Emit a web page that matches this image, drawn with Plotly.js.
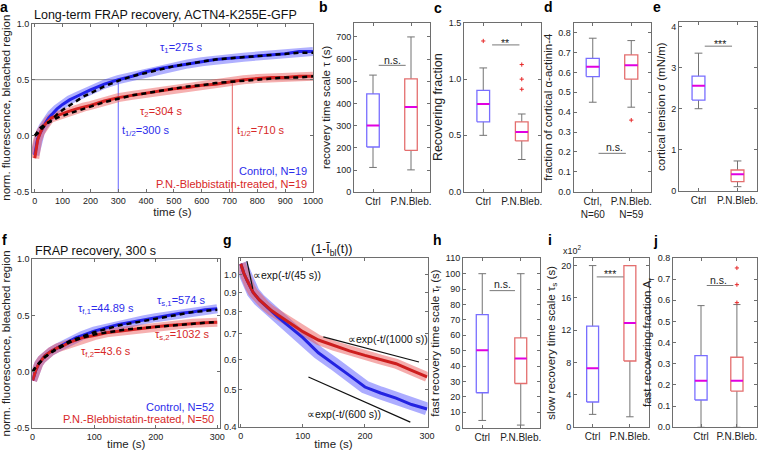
<!DOCTYPE html>
<html><head><meta charset="utf-8">
<script src="https://cdn.plot.ly/plotly-3.0.1.min.js"></script>
<style>html,body{margin:0;padding:0;background:#fff}</style>
</head><body><div id="chart" style="width:761px;height:450px"></div>
<script>
// ---------- DATA ----------
// panel a: long-term FRAP recovery
const aTime = [0,5,10,20,30,40,50,60,80,100,125,150,175,200,250,300,350,400,450,500,550,600,650,700,750,800,850,900,950,1000];
const aCtrl = [-0.17,-0.09,-0.03,0.03,0.08,0.12,0.16,0.19,0.24,0.28,0.32,0.35,0.38,0.41,0.46,0.50,0.53,0.57,0.60,0.62,0.64,0.66,0.68,0.69,0.70,0.71,0.72,0.73,0.75,0.75];
const aBleb = [-0.20,-0.10,-0.04,0.03,0.08,0.11,0.14,0.16,0.18,0.20,0.22,0.24,0.255,0.27,0.31,0.34,0.36,0.38,0.40,0.42,0.43,0.45,0.46,0.48,0.50,0.51,0.52,0.52,0.53,0.53];
const aFitCtrl = [0.0,0.01,0.02,0.05,0.08,0.10,0.12,0.14,0.19,0.23,0.27,0.31,0.35,0.38,0.44,0.49,0.53,0.56,0.59,0.62,0.64,0.66,0.68,0.69,0.70,0.71,0.72,0.73,0.74,0.74];
const aFitBleb = [0.0,0.02,0.04,0.07,0.09,0.11,0.12,0.13,0.16,0.18,0.20,0.22,0.24,0.26,0.30,0.33,0.36,0.38,0.40,0.42,0.44,0.45,0.47,0.48,0.49,0.50,0.51,0.52,0.52,0.53];
const aHalfLevel = 0.5;
const aHalfTimes = [300, 710];
// panel f: FRAP recovery 300 s
const fTime = [0,2,5,10,15,20,30,40,50,60,70,80,100,120,140,160,180,200,220,240,260,280,300];
const fCtrl = [-0.08,-0.04,0.01,0.07,0.11,0.14,0.18,0.21,0.24,0.27,0.30,0.32,0.36,0.39,0.42,0.44,0.46,0.48,0.50,0.52,0.53,0.55,0.56];
const fBleb = [-0.08,-0.04,0.01,0.07,0.11,0.14,0.18,0.21,0.23,0.26,0.28,0.30,0.32,0.345,0.36,0.375,0.39,0.40,0.41,0.42,0.43,0.435,0.44];
const fFitCtrl = [0.0,0.02,0.04,0.07,0.10,0.13,0.17,0.21,0.24,0.27,0.29,0.31,0.35,0.38,0.41,0.43,0.45,0.47,0.49,0.51,0.53,0.54,0.55];
const fFitBleb = [0.0,0.02,0.04,0.07,0.10,0.13,0.17,0.20,0.23,0.26,0.28,0.30,0.33,0.35,0.365,0.38,0.39,0.40,0.41,0.42,0.43,0.435,0.44];
// panel g: (1 - I_bl(t)) on log scale
const gTime = [0,5,10,15,20,30,40,50,60,75,100,125,150,175,200,225,250,275,300];
const gCtrl = [1.07,1.01,0.97,0.93,0.90,0.86,0.83,0.80,0.775,0.74,0.685,0.625,0.585,0.545,0.508,0.49,0.475,0.457,0.445];
const gBleb = [1.07,1.01,0.97,0.93,0.90,0.86,0.83,0.805,0.785,0.755,0.71,0.675,0.652,0.632,0.615,0.60,0.585,0.562,0.54];
const g45T = [10, 19.5],  g45V = [1.088, 0.919];
const g1000T = [133, 287], g1000V = [0.688, 0.591];
const g600T = [109, 273],  g600V = [0.54, 0.411];
// box plots: [Ctrl, P.N.Bleb.]
const boxCats = ['Ctrl','P.N.Bleb.'];
const dCats = ['Ctrl,<br>N=60','P.N.Bleb.<br>N=59'];
const bLow=[112,101], bQ1=[204,189], bMed=[301,384], bQ3=[443,511], bHigh=[528,700];
const cLow=[0.50,0.285], cQ1=[0.62,0.45], cMed=[0.78,0.53], cQ3=[0.90,0.62], cHigh=[1.10,0.69];
const cOut=[[1.34],[1.13,1.00,0.91]];
const dLow=[0.45,0.425], dQ1=[0.579,0.566], dMed=[0.629,0.636], dQ3=[0.671,0.688], dHigh=[0.772,0.76];
const dOut=[[],[0.36]];
const eLow=[2.0,0.105], eQ1=[2.21,0.23], eMed=[2.56,0.41], eQ3=[2.79,0.51], eHigh=[3.35,0.73];
const hLow=[4.7,1.7], hQ1=[22.7,28.7], hMed=[50.3,44.9], hQ3=[73.4,58.3], hHigh=[100,100];
const iLow=[1.6,1.3], iQ1=[3.13,8.2], iMed=[7.3,12.9], iQ3=[12.5,20.0], iHigh=[20.0,20.0];
const jLow=[0,0], jQ1=[0.129,0.171], jMed=[0.22,0.22], jQ3=[0.339,0.331], jHigh=[0.575,0.58];
const jOut=[[],[0.589,0.674,0.753]];

// ---------- STYLE / HELPERS ----------
const W=761,H=450;
const FONT='Liberation Sans, Arial, sans-serif';
const AX='rgb(110,110,110)';
const BLUE_T='rgb(45,45,235)', RED_T='rgb(215,40,40)';
const BOX_B='rgb(120,110,255)', BOX_R='rgb(228,110,110)';
const WHISK='rgb(115,115,115)', MED='rgb(225,0,225)';
const traces=[], ann=[];
function ax(n){return n===1?['x','y']:['x'+n,'y'+n];}
function line(n,x,y,color,width,dash){const r=ax(n);traces.push({type:'scatter',mode:'lines',x:x,y:y,xaxis:r[0],yaxis:r[1],line:{color:color,width:width,dash:dash||'solid'},hoverinfo:'skip',showlegend:false});}
function txt(n,x,y,t,color,size,xanchor){const r=ax(n);ann.push({xref:r[0],yref:r[1],x:x,y:y,text:t,showarrow:false,font:{family:FONT,size:size||11,color:color||'#222'},xanchor:xanchor||'center',yanchor:'middle'});}
function ptxt(px,py,t,size,color,weight){ann.push({xref:'paper',yref:'paper',x:px/W,y:1-py/H,text:t,showarrow:false,font:{family:FONT,size:size,color:color||'#111',weight:weight||'normal'},xanchor:'center',yanchor:'middle'});}
function boxes(n,low,q1,med,q3,high,outs,hw){
  const r=ax(n);
  [0,1].forEach(k=>{
    const p=k+1, col=k===0?BOX_B:BOX_R, cw=0.1;
    line(n,[p,p,null,p,p],[q3[k],high[k],null,q1[k],low[k]],WHISK,1);
    line(n,[p-cw,p+cw,null,p-cw,p+cw],[high[k],high[k],null,low[k],low[k]],WHISK,1);
    line(n,[p-hw,p+hw,p+hw,p-hw,p-hw],[q1[k],q1[k],q3[k],q3[k],q1[k]],col,1.3);
    line(n,[p-hw,p+hw],[med[k],med[k]],MED,2);
    if(outs && outs[k].length){
      traces.push({type:'scatter',mode:'markers',x:outs[k].map(()=>p),y:outs[k],xaxis:r[0],yaxis:r[1],
        marker:{symbol:'cross-thin',size:3,line:{color:'rgb(230,40,40)',width:1}},hoverinfo:'skip',showlegend:false});
    }
  });
}
function sig(n,x0,x1,yl,tx,ty,t){line(n,[x0,x1],[yl,yl],'rgb(120,120,120)',1);txt(n,tx,ty,t,'#222',10.5);}

// ---------- PANEL a ----------
line(1,[-10,1000],[aHalfLevel,aHalfLevel],'rgb(140,140,140)',1);
line(1,[aHalfTimes[0],aHalfTimes[0]],[-0.5,aHalfLevel],'rgb(100,100,255)',1);
line(1,[aHalfTimes[1],aHalfTimes[1]],[-0.5,aHalfLevel],'rgb(230,100,100)',1);
line(1,aTime,aCtrl,'rgba(80,80,255,0.45)',9);
line(1,aTime,aBleb,'rgba(235,80,80,0.45)',9);
line(1,aTime,aCtrl,'rgb(35,35,235)',3);
line(1,aTime,aBleb,'rgb(215,35,35)',3);
line(1,aTime,aFitCtrl,'black',2.5,'5px,4px');
line(1,aTime,aFitBleb,'black',2.5,'5px,4px');
txt(1,525,0.78,'τ<sub>1</sub>=275 s',BLUE_T,11);
txt(1,453,0.21,'τ<sub>2</sub>=304 s',RED_T,11);
txt(1,306,0.04,'t<sub>1/2</sub>=300 s',BLUE_T,11,'left');
txt(1,720,0.04,'t<sub>1/2</sub>=710 s',RED_T,11,'left');
txt(1,986,-0.315,'Control, N=19',BLUE_T,11,'right');
txt(1,986,-0.43,'P.N.-Blebbistatin-treated, N=19',RED_T,11,'right');

// ---------- PANEL f ----------
line(6,fTime,fCtrl,'rgba(80,80,255,0.45)',9);
line(6,fTime,fBleb,'rgba(235,80,80,0.45)',9);
line(6,fTime,fCtrl,'rgb(35,35,235)',3);
line(6,fTime,fBleb,'rgb(215,35,35)',3);
line(6,fTime,fFitCtrl,'black',2.5,'5px,4px');
line(6,fTime,fFitBleb,'black',2.5,'5px,4px');
txt(6,120,0.555,'τ<sub>f,1</sub>=44.89 s',BLUE_T,11);
txt(6,241,0.625,'τ<sub>s,1</sub>=574 s',BLUE_T,11);
txt(6,243,0.322,'τ<sub>s,2</sub>=1032 s',RED_T,11);
txt(6,119,0.173,'τ<sub>f,2</sub>=43.6 s',RED_T,11);
txt(6,298,-0.32,'Control, N=52',BLUE_T,11,'right');
txt(6,298,-0.42,'P.N.-Blebbistatin-treated, N=50',RED_T,11,'right');

// ---------- PANEL g ----------
line(7,gTime,gCtrl,'rgba(90,90,255,0.5)',13);
line(7,gTime,gBleb,'rgba(235,90,90,0.5)',10);
line(7,gTime,gCtrl,'rgb(35,35,225)',3);
line(7,gTime,gBleb,'rgb(205,30,30)',3);
line(7,g45T,g45V,'#111',1.2);
line(7,g1000T,g1000V,'#111',1.2);
line(7,g600T,g600V,'#111',1.2);
txt(7,16,Math.log10(1.0),'∝exp(-t/(45 s))','#111',10.5,'left');
txt(7,170,Math.log10(0.681),'∝exp(-t/(1000 s))','#111',10.5,'left');
txt(7,103,Math.log10(0.4325),'∝exp(-t/(600 s))','#111',10.5,'left');

// ---------- BOX PANELS ----------
boxes(2,bLow,bQ1,bMed,bQ3,bHigh,null,0.165);
sig(2,1.15,1.86,572,1.51,596,'n.s.');
boxes(3,cLow,cQ1,cMed,cQ3,cHigh,cOut,0.165);
sig(3,1.23,1.94,1.305,1.57,1.32,'**');
boxes(4,dLow,dQ1,dMed,dQ3,dHigh,dOut,0.17);
sig(4,1.15,1.86,0.193,1.56,0.226,'n.s.');
boxes(5,eLow,eQ1,eMed,eQ3,eHigh,null,0.165);
sig(5,1.16,1.86,3.52,1.55,3.58,'***');
boxes(8,hLow,hQ1,hMed,hQ3,hHigh,null,0.155);
sig(8,1.19,1.85,89,1.53,93,'n.s.');
boxes(9,iLow,iQ1,iMed,iQ3,iHigh,null,0.16);
sig(9,1.11,1.83,18.6,1.47,18.9,'***');
boxes(10,jLow,jQ1,jMed,jQ3,jHigh,jOut,0.17);
sig(10,1.16,1.9,0.67,1.5,0.695,'n.s.');

// ---------- TITLES / LETTERS ----------
ptxt(165.5,15,'Long-term FRAP recovery, ACTN4-K255E-GFP',12.5,'#111');
ptxt(95,251,'FRAP recovery, 300 s',12.5,'#111');
ptxt(332,250,'(1-Ĩ<sub>bl</sub>(t))',12.5,'#111');
ptxt(572,250,'x10<sup>2</sup>',9,'#222');
[['a',4,7],['b',323,7],['c',438,8],['d',548,7],['e',657,7],['f',4,240],['g',228,240],['h',437,240],['i',550,240],['j',655,241]]
  .forEach(l=>ptxt(l[1],l[2],l[0],14,'#000','bold'));

// ---------- AXES ----------
function fmt(v,d){return v.map(x=>x.toFixed(d));}
const spec={
 1:{px:[32,313],py:[23.5,192],x:{range:[-10,1000],dtick:100,tick0:0,title:'time (s)'},
    y:{range:[-0.5,1.0],tickvals:[-0.5,0,0.5,1.0],ticktext:fmt([-0.5,0,0.5,1.0],1),title:'norm. fluorescence, bleached region'}},
 2:{px:[354,430],py:[22.5,192.3],x:{range:[0.5,2.5],tickvals:[1,2],ticktext:boxCats},
    y:{range:[0,765],dtick:100,title:'recovery time scale τ (s)'}},
 3:{px:[464,541],py:[23,191.5],x:{range:[0.5,2.5],tickvals:[1,2],ticktext:boxCats},
    y:{range:[0,1.5],tickvals:[0,0.5,1.0,1.5],ticktext:fmt([0,0.5,1.0,1.5],1),title:'Recovering fraction',tsize:12.5}},
 4:{px:[573.5,650.5],py:[22.7,191.7],x:{range:[0.5,2.5],tickvals:[1,2],ticktext:dCats},
    y:{range:[0,0.85],tickvals:[0,0.1,0.2,0.3,0.4,0.5,0.6,0.7,0.8],ticktext:fmt([0,0.1,0.2,0.3,0.4,0.5,0.6,0.7,0.8],1),title:'fraction of cortical α-actinin-4'}},
 5:{px:[679,757],py:[22.3,191],x:{range:[0.5,2.5],tickvals:[1,2],ticktext:boxCats},
    y:{range:[0,4.1],tickvals:[0,1,2,3,4],title:'cortical tension σ (mN/m)'}},
 6:{px:[32.3,220],py:[259.3,427.7],x:{range:[-0.5,304.5],dtick:100,tick0:0,title:'time (s)'},
    y:{range:[-0.5,1.0],tickvals:[-0.5,0,0.5,1.0],ticktext:fmt([-0.5,0,0.5,1.0],1),title:'norm. fluorescence, bleached region'}},
 7:{px:[239.3,427.7],py:[258.3,427],x:{range:[-2.3,301],dtick:100,tick0:0,title:'time (s)'},
    y:{type:'log',range:[Math.log10(0.399),Math.log10(1.106)],tickvals:[0.4,0.5,0.6,0.7,0.8,0.9,1.0],ticktext:fmt([0.4,0.5,0.6,0.7,0.8,0.9,1.0],1)}},
 8:{px:[463,540],py:[258.3,427.7],x:{range:[0.5,2.5],tickvals:[1,2],ticktext:boxCats},
    y:{range:[0,110],dtick:10,title:'fast recovery time scale τ<sub>f</sub> (s)'}},
 9:{px:[574,648.5],py:[258.3,427.3],x:{range:[0.5,2.5],tickvals:[1,2],ticktext:boxCats},
    y:{range:[0,20.9],tickvals:[0,4,8,12,16,20],title:'slow recovery time scale τ<sub>s</sub> (s)'}},
 10:{px:[673,757],py:[258,427.3],x:{range:[0.22,2.56],tickvals:[1,2],ticktext:boxCats},
    y:{range:[0,0.8],tickvals:[0,0.1,0.2,0.3,0.4,0.5,0.6,0.7,0.8],ticktext:fmt([0,0.1,0.2,0.3,0.4,0.5,0.6,0.7,0.8],1),title:'fast recovering fraction A<sub>f</sub>'}}
};
const layout={width:W,height:H,margin:{l:0,r:0,t:0,b:0},paper_bgcolor:'white',plot_bgcolor:'white',showlegend:false,
  font:{family:FONT,color:'#222'},annotations:ann};
function base(){return {showline:true,mirror:'ticks',linecolor:AX,linewidth:1,ticks:'inside',ticklen:3,tickcolor:AX,
  showgrid:false,zeroline:false,fixedrange:true,tickfont:{family:FONT,size:9,color:'#222'}};}
Object.keys(spec).forEach(k=>{
  const n=+k, s=spec[k];
  const xk=n===1?'xaxis':'xaxis'+n, yk=n===1?'yaxis':'yaxis'+n;
  const xa=base(), ya=base();
  xa.domain=[s.px[0]/W,s.px[1]/W]; ya.domain=[1-s.py[1]/H,1-s.py[0]/H];
  xa.anchor=n===1?'y':'y'+n; ya.anchor=n===1?'x':'x'+n;
  ['range','dtick','tick0','tickvals','ticktext','type'].forEach(p=>{if(s.x[p]!==undefined)xa[p]=s.x[p]; if(s.y[p]!==undefined)ya[p]=s.y[p];});
  if(s.x.tickvals && !s.x.dtick){xa.tickfont={family:FONT,size:10,color:'#222'};}
  if(s.x.title) xa.title={text:s.x.title,font:{family:FONT,size:11.5,color:'#222'},standoff:2};
  if(s.y.title) ya.title={text:s.y.title,font:{family:FONT,size:s.y.tsize||11.5,color:'#222'},standoff:3};
  layout[xk]=xa; layout[yk]=ya;
});
Plotly.newPlot('chart',traces,layout,{staticPlot:true,displayModeBar:false});
</script>
</body></html>
